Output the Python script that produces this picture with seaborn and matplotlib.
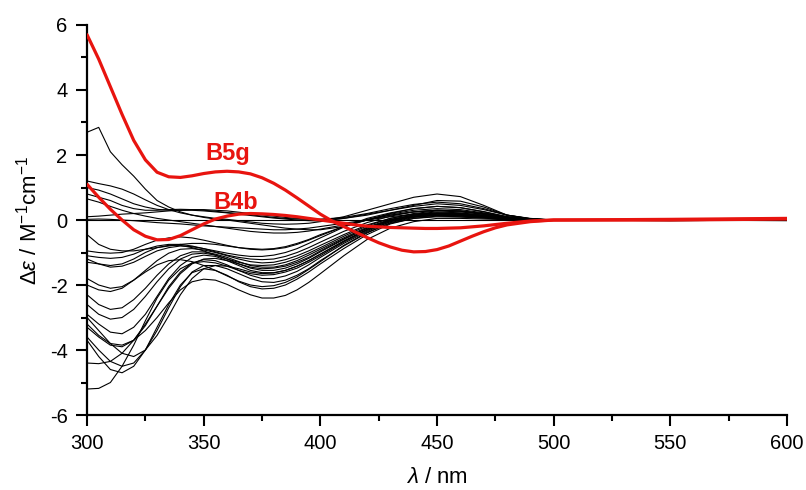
import numpy as np
import pandas as pd
import seaborn as sns
import matplotlib.pyplot as plt
from matplotlib.ticker import MultipleLocator

# wavelength grid (nm) shared by the black spectra
wavelength = [300, 305, 310, 315, 320, 325, 330, 335, 340, 345, 350, 355, 360, 365, 370,
              375, 380, 385, 390, 395, 400, 410, 420, 430, 440, 450, 460, 470, 480, 490,
              500, 550, 600]

# finer grid for the two highlighted spectra
wl_red = [300, 305, 310, 315, 320, 325, 330, 335, 340, 345, 350, 355, 360, 365, 370,
          375, 380, 385, 390, 395, 400, 405, 410, 415, 420, 425, 430, 435, 440, 445,
          450, 455, 460, 465, 470, 475, 480, 490, 500, 550, 600]

b5g = [5.7, 4.95, 4.1, 3.25, 2.45, 1.85, 1.47, 1.33, 1.31, 1.36, 1.43, 1.48, 1.5, 1.48, 1.42,
       1.3, 1.13, 0.92, 0.68, 0.43, 0.18, -0.03, -0.2, -0.37, -0.54, -0.7, -0.83, -0.93, -0.98, -0.97,
       -0.91, -0.8, -0.65, -0.5, -0.36, -0.24, -0.15, -0.05, 0.0, 0.02, 0.05]
b4b = [1.1, 0.7, 0.33, 0.0, -0.3, -0.5, -0.61, -0.6, -0.48, -0.3, -0.12, 0.03, 0.12, 0.18, 0.2,
       0.19, 0.17, 0.14, 0.1, 0.05, 0.0, -0.05, -0.1, -0.15, -0.19, -0.21, -0.23, -0.24, -0.25, -0.26,
       -0.26, -0.25, -0.24, -0.21, -0.18, -0.14, -0.1, -0.03, 0.0, 0.0, 0.03]

# all other compounds (black)
others = [
    [2.7, 2.85, 2.1, 1.7, 1.35, 0.95, 0.6, 0.4, 0.25, 0.15, 0.08, 0.03, 0.0, -0.05, -0.1, -0.15, -0.2, -0.25, -0.28, -0.3, -0.3,
     -0.2, 0.0, 0.2, 0.35, 0.42, 0.38, 0.25, 0.1, 0.03, 0.0, 0.02, 0.0],
    [1.2, 1.12, 1.05, 0.95, 0.8, 0.62, 0.45, 0.32, 0.22, 0.15, 0.1, 0.05, 0.02, -0.02, -0.06, -0.1, -0.12, -0.13, -0.12, -0.1, -0.05,
     0.05, 0.18, 0.3, 0.42, 0.5, 0.45, 0.32, 0.15, 0.05, 0.0, -0.02, 0.0],
    [1.0, 0.92, 0.8, 0.65, 0.5, 0.4, 0.33, 0.3, 0.3, 0.3, 0.28, 0.25, 0.22, 0.18, 0.14, 0.1, 0.06, 0.03, 0.0, -0.02, -0.03,
     0.1, 0.3, 0.5, 0.7, 0.8, 0.72, 0.45, 0.15, 0.03, 0.0, 0.0, 0.02],
    [0.8, 0.7, 0.6, 0.45, 0.35, 0.3, 0.3, 0.32, 0.33, 0.32, 0.3, 0.27, 0.23, 0.2, 0.16, 0.12, 0.08, 0.05, 0.03, 0.02, 0.02,
     0.08, 0.2, 0.35, 0.48, 0.55, 0.5, 0.35, 0.15, 0.04, 0.0, 0.03, 0.0],
    [0.65, 0.55, 0.42, 0.3, 0.2, 0.12, 0.05, 0.0, -0.05, -0.1, -0.15, -0.2, -0.25, -0.3, -0.35, -0.38, -0.4, -0.4, -0.38, -0.34, -0.28,
     -0.15, 0.0, 0.15, 0.25, 0.3, 0.28, 0.2, 0.08, 0.02, 0.0, 0.0, -0.02],
    [0.1, 0.12, 0.15, 0.18, 0.2, 0.22, 0.25, 0.28, 0.3, 0.32, 0.32, 0.3, 0.28, 0.24, 0.2, 0.16, 0.12, 0.08, 0.05, 0.03, 0.02,
     0.05, 0.15, 0.3, 0.45, 0.6, 0.58, 0.4, 0.15, 0.04, 0.0, 0.0, 0.0],
    [0.02, 0.03, 0.02, 0.0, -0.02, -0.05, -0.08, -0.1, -0.12, -0.15, -0.18, -0.2, -0.22, -0.24, -0.26, -0.28, -0.3, -0.3, -0.28, -0.25, -0.2,
     -0.1, 0.0, 0.1, 0.18, 0.22, 0.2, 0.14, 0.06, 0.02, 0.0, 0.0, 0.0],
    [-0.45, -0.75, -0.9, -0.95, -0.95, -0.9, -0.85, -0.8, -0.75, -0.72, -0.72, -0.75, -0.8, -0.85, -0.88, -0.9, -0.88, -0.82, -0.72, -0.6, -0.45,
     -0.2, 0.0, 0.15, 0.25, 0.3, 0.28, 0.2, 0.08, 0.02, 0.0, 0.02, 0.0],
    [-0.95, -1.0, -1.02, -1.0, -0.9, -0.75, -0.62, -0.55, -0.52, -0.55, -0.62, -0.7, -0.78, -0.85, -0.9, -0.92, -0.9, -0.85, -0.75, -0.62, -0.48,
     -0.2, 0.02, 0.18, 0.3, 0.35, 0.32, 0.22, 0.1, 0.03, 0.0, 0.0, 0.0],
    [-1.1, -1.15, -1.18, -1.15, -1.05, -0.9, -0.8, -0.75, -0.75, -0.8, -0.88, -0.98, -1.08, -1.15, -1.2, -1.22, -1.2, -1.12, -1.0, -0.85, -0.68,
     -0.35, -0.08, 0.12, 0.25, 0.3, 0.27, 0.18, 0.07, 0.02, 0.0, -0.02, 0.0],
    [-1.3, -1.35, -1.4, -1.35, -1.2, -1.0, -0.85, -0.78, -0.78, -0.85, -0.95, -1.08, -1.2, -1.3, -1.38, -1.4, -1.38, -1.3, -1.18, -1.02, -0.85,
     -0.5, -0.18, 0.05, 0.2, 0.28, 0.25, 0.17, 0.07, 0.02, 0.0, 0.0, 0.0],
    [-2.0, -2.15, -2.2, -2.1, -1.85, -1.55, -1.25, -1.02, -0.9, -0.88, -0.92, -1.0, -1.1, -1.2, -1.28, -1.32, -1.3, -1.22, -1.1, -0.95, -0.78,
     -0.45, -0.15, 0.05, 0.18, 0.25, 0.22, 0.15, 0.06, 0.02, 0.0, 0.0, 0.0],
    [-2.3, -2.6, -2.75, -2.7, -2.45, -2.1, -1.7, -1.35, -1.1, -0.98, -0.98, -1.05, -1.15, -1.28, -1.4, -1.45, -1.45, -1.38, -1.25, -1.08, -0.9,
     -0.55, -0.22, 0.02, 0.15, 0.22, 0.2, 0.14, 0.06, 0.02, 0.0, 0.0, 0.0],
    [-2.6, -2.9, -3.05, -3.0, -2.75, -2.35, -1.9, -1.5, -1.2, -1.05, -1.02, -1.08, -1.2, -1.35, -1.48, -1.55, -1.55, -1.48, -1.35, -1.18, -0.98,
     -0.6, -0.25, 0.0, 0.15, 0.2, 0.18, 0.12, 0.05, 0.01, 0.0, 0.0, 0.0],
    [-2.9, -3.2, -3.45, -3.5, -3.3, -2.9, -2.35, -1.8, -1.4, -1.15, -1.08, -1.12, -1.25, -1.4, -1.55, -1.62, -1.62, -1.55, -1.42, -1.25, -1.05,
     -0.65, -0.3, -0.02, 0.12, 0.18, 0.16, 0.1, 0.04, 0.01, 0.0, 0.0, 0.0],
    [-3.3, -3.6, -3.85, -3.9, -3.7, -3.25, -2.65, -2.05, -1.6, -1.32, -1.22, -1.25, -1.38, -1.55, -1.7, -1.8, -1.8, -1.72, -1.58, -1.38, -1.15,
     -0.72, -0.35, -0.05, 0.1, 0.16, 0.14, 0.09, 0.04, 0.01, 0.0, 0.0, 0.0],
    [-3.6, -4.0, -4.35, -4.5, -4.4, -4.0, -3.4, -2.7, -2.05, -1.6, -1.4, -1.4, -1.5, -1.65, -1.8, -1.9, -1.92, -1.85, -1.7, -1.5, -1.25,
     -0.8, -0.4, -0.08, 0.08, 0.14, 0.12, 0.08, 0.03, 0.01, 0.0, 0.0, 0.0],
    [-3.7, -4.2, -4.6, -4.7, -4.5, -4.0, -3.3, -2.6, -2.0, -1.62, -1.5, -1.55, -1.7, -1.9, -2.05, -2.12, -2.1, -2.0, -1.82, -1.6, -1.35,
     -0.88, -0.45, -0.12, 0.05, 0.12, 0.1, 0.06, 0.02, 0.0, 0.0, 0.0, 0.0],
    [-4.4, -4.42, -4.35, -4.1, -3.7, -3.2, -2.65, -2.1, -1.65, -1.35, -1.2, -1.18, -1.25, -1.35, -1.45, -1.5, -1.48, -1.42, -1.3, -1.15, -0.95,
     -0.58, -0.25, 0.0, 0.15, 0.2, 0.18, 0.12, 0.05, 0.01, 0.0, 0.0, 0.0],
    [-5.2, -5.18, -5.0, -4.5, -3.85, -3.1, -2.4, -1.85, -1.5, -1.32, -1.28, -1.32, -1.42, -1.55, -1.65, -1.7, -1.68, -1.6, -1.48, -1.3, -1.1,
     -0.68, -0.32, -0.05, 0.1, 0.15, 0.13, 0.08, 0.03, 0.01, 0.0, 0.0, 0.0],
    [-3.2, -3.55, -3.8, -3.85, -3.7, -3.4, -3.0, -2.55, -2.15, -1.9, -1.82, -1.85, -1.98, -2.15, -2.3, -2.4, -2.4, -2.32, -2.15, -1.92, -1.65,
     -1.1, -0.6, -0.25, -0.05, 0.05, 0.05, 0.03, 0.01, 0.0, 0.0, 0.0, 0.0],
    [-1.2, -1.35, -1.45, -1.42, -1.3, -1.12, -0.95, -0.85, -0.8, -0.82, -0.88, -0.95, -1.02, -1.08, -1.12, -1.12, -1.08, -1.0, -0.88, -0.72, -0.55,
     -0.22, 0.05, 0.22, 0.35, 0.42, 0.38, 0.26, 0.1, 0.03, 0.0, 0.0, 0.0],
    [-1.8, -2.0, -2.1, -2.05, -1.85, -1.6, -1.38, -1.25, -1.22, -1.28, -1.4, -1.55, -1.72, -1.88, -2.0, -2.05, -2.02, -1.92, -1.75, -1.52, -1.28,
     -0.78, -0.38, -0.1, 0.05, 0.1, 0.09, 0.06, 0.02, 0.0, 0.0, 0.0, 0.0],
    [-3.0, -3.4, -3.8, -4.1, -4.2, -4.0, -3.55, -2.95, -2.3, -1.8, -1.5, -1.4, -1.42, -1.5, -1.6, -1.65, -1.63, -1.55, -1.42, -1.25, -1.05,
     -0.65, -0.28, -0.02, 0.12, 0.18, 0.16, 0.1, 0.04, 0.01, 0.0, 0.0, 0.0],
]

rows = []
for i, vals in enumerate(others):
    for wl, v in zip(wavelength, vals):
        rows.append({"wl": wl, "de": v, "curve": i})
df_black = pd.DataFrame(rows)
df_red = pd.DataFrame({"wl": wl_red * 2, "de": b5g + b4b,
                       "name": ["B5g"] * len(wl_red) + ["B4b"] * len(wl_red)})

sns.set_style("ticks")
plt.rcParams["font.family"] = ["Liberation Sans", "DejaVu Sans"]
plt.rcParams["mathtext.fontset"] = "custom"
plt.rcParams["mathtext.rm"] = "Liberation Sans"
plt.rcParams["mathtext.it"] = "Liberation Sans:italic"
plt.rcParams["axes.unicode_minus"] = False
plt.rcParams["text.color"] = "black"
plt.rcParams["axes.labelcolor"] = "black"
plt.rcParams["xtick.color"] = "black"
plt.rcParams["ytick.color"] = "black"
plt.rcParams["axes.edgecolor"] = "black"

RED = "#e8140f"

fig = plt.figure(figsize=(8.06, 4.9), dpi=100)
ax = fig.add_axes([0.108, 0.153, 0.8685, 0.796])

ax.axhline(0, color="black", lw=0.8, zorder=1)
sns.lineplot(data=df_black, x="wl", y="de", units="curve", estimator=None,
             color="black", lw=0.8, ax=ax)
sns.lineplot(data=df_red, x="wl", y="de", units="name", estimator=None,
             color=RED, lw=2.3, ax=ax, zorder=5)

ax.text(360.4, 2.06, "B5g", color=RED, fontsize=17, fontweight="bold",
        ha="center", va="center")
ax.text(363.9, 0.55, "B4b", color=RED, fontsize=17, fontweight="bold",
        ha="center", va="center")

ax.set_xlim(300, 600)
ax.set_ylim(-6, 6)
ax.xaxis.set_major_locator(MultipleLocator(50))
ax.xaxis.set_minor_locator(MultipleLocator(25))
ax.yaxis.set_major_locator(MultipleLocator(2))
ax.yaxis.set_minor_locator(MultipleLocator(1))
ax.tick_params(which="major", direction="out", length=8, width=1.5, labelsize=14.5, pad=6)
ax.tick_params(which="minor", direction="out", length=4, width=1.5)
sns.despine(ax=ax)
for s in ["left", "bottom"]:
    ax.spines[s].set_linewidth(1.6)

ax.set_xlabel(r"$\lambda$ / nm", fontsize=16, labelpad=10)
ax.set_ylabel(r"$\Delta\varepsilon$ / M$^{-1}$cm$^{-1}$", fontsize=16, labelpad=6)

fig.savefig("out.png", dpi=100)
